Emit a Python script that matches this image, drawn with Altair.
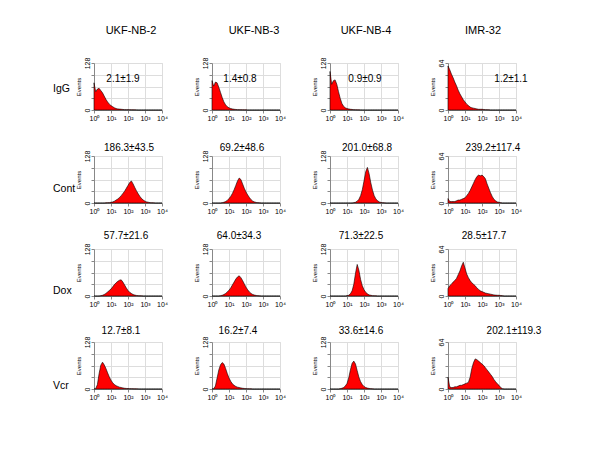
import altair as alt
import pandas as pd

FONT = "Liberation Sans"

CELL_LINES = ["UKF-NB-2", "UKF-NB-3", "UKF-NB-4", "IMR-32"]
TREATMENTS = ["IgG", "Cont", "Dox", "Vcr"]
Y_MAX = [128, 128, 128, 64]

# log10 fluorescence grid (10^0 .. 10^4)
LOG_FL = [0.0, 0.1, 0.2, 0.3, 0.4, 0.5, 0.6, 0.7, 0.8, 0.9,
          1.0, 1.1, 1.2, 1.3, 1.4, 1.5, 1.6, 1.7, 1.8, 1.9,
          2.0, 2.1, 2.2, 2.3, 2.4, 2.5, 2.6, 2.7, 2.8, 2.9,
          3.0, 3.1, 3.2, 3.3, 3.4, 3.5, 3.6, 3.7, 3.8, 3.9, 4.0]

MFI_LABELS = [
    ["2.1±1.9", "1.4±0.8", "0.9±0.9", "1.2±1.1"],
    ["186.3±43.5", "69.2±48.6", "201.0±68.8", "239.2±117.4"],
    ["57.7±21.6", "64.0±34.3", "71.3±22.5", "28.5±17.7"],
    ["12.7±8.1", "16.2±7.4", "33.6±14.6", "202.1±119.3"],
]

# events per channel
IGG_NB2 = [74, 50, 57, 59, 53, 47, 38, 29, 22, 16, 12, 9, 6, 4, 3, 2.5, 2, 1.5, 1, 1, 1, 0.8, 0.6, 0.5, 0.4, 0.3] + [0] * 15
IGG_NB3 = [80, 65, 76, 74, 62, 48, 34, 22, 14, 9, 6, 4, 3, 2, 1.5, 1, 1, 0.8, 0.6, 0.5, 0.4] + [0] * 20
IGG_NB4 = [105, 70, 80, 82, 70, 50, 32, 18, 10, 6, 4, 3, 2, 1.5, 1, 0.8, 0.5, 0.4, 0.3, 0.2] + [0] * 21
IGG_IMR = [60, 55, 49, 44, 38, 33, 27, 22, 18, 14, 11, 8, 6, 4, 3, 2.5, 2, 1.5, 1, 1, 1, 0.7, 0.5, 0.4, 0.3] + [0] * 16

CONT_NB2 = [0, 0, 0, 0, 0, 0, 0, 0.5, 1, 1, 2, 3, 5, 8, 11, 15, 20, 26, 32, 40, 48, 56, 60, 52, 42, 33, 25, 18, 12, 8, 5, 3, 2, 1, 0.8, 0.5] + [0] * 5
CONT_NB3 = [0] * 6 + [1, 2, 4, 7, 12, 18, 26, 36, 48, 60, 68, 64, 52, 40, 30, 22, 15, 9, 5, 3, 1.5, 1, 0.5] + [0] * 12
CONT_NB4 = [0] * 14 + [1, 2, 5, 10, 20, 36, 60, 85, 97, 80, 55, 35, 20, 11, 6, 3, 1.5, 1, 0.5] + [0] * 8
CONT_IMR = [6, 2, 2, 2, 2, 3, 4, 4, 5, 6, 7, 10, 13, 17, 22, 27, 32, 36, 38, 37, 38, 36, 33, 26, 20, 14, 9, 5, 3, 1.5, 1, 0.5] + [0] * 9

DOX_NB2 = [0] * 4 + [1, 2, 4, 7, 11, 15, 19, 25, 31, 36, 40, 43, 44, 38, 30, 22, 15, 10, 7, 4, 2.5, 1.5, 1, 0.7, 0.5] + [0] * 12
DOX_NB3 = [0] * 5 + [1, 2, 4, 7, 11, 16, 22, 30, 38, 46, 52, 55, 50, 42, 33, 24, 17, 11, 7, 4, 2.5, 1.5, 1, 0.5] + [0] * 12
DOX_NB4 = [0] * 10 + [1, 2, 6, 14, 32, 62, 86, 70, 45, 28, 17, 10, 6, 3, 2, 1, 0.7, 0.5] + [0] * 13
DOX_IMR = [10, 14, 16, 19, 21, 24, 29, 34, 41, 46, 38, 30, 25, 21, 18, 16, 14, 11, 9, 7, 6, 5, 4, 3.5, 3, 2.5, 2, 1.5, 1.2, 1, 1, 0.7, 0.5] + [0] * 8

VCR_NB2 = [0, 1, 12, 42, 65, 73, 66, 56, 44, 33, 24, 17, 12, 9, 7, 5, 4, 3, 2, 1.5, 1.2, 1, 1, 0.7, 0.5, 0.4, 0.3] + [0] * 14
VCR_NB3 = [0, 1, 8, 30, 52, 66, 72, 68, 56, 42, 30, 21, 14, 10, 7, 5, 4, 3, 2, 1.5, 1, 0.8, 0.6, 0.5] + [0] * 17
VCR_NB4 = [0] * 6 + [1, 2, 4, 8, 15, 30, 52, 70, 76, 68, 50, 32, 20, 12, 7, 4, 2.5, 1.5, 1, 0.5] + [0] * 15
VCR_IMR = [16, 3, 2, 2, 3, 3, 4, 5, 5, 6, 7, 8, 9, 16, 28, 36, 41, 40, 38, 36, 34, 32, 29, 26, 23, 20, 17, 13, 10, 7, 5, 2, 0.5] + [0] * 8

COUNTS = [
    [IGG_NB2, IGG_NB3, IGG_NB4, IGG_IMR],
    [CONT_NB2, CONT_NB3, CONT_NB4, CONT_IMR],
    [DOX_NB2, DOX_NB3, DOX_NB4, DOX_IMR],
    [VCR_NB2, VCR_NB3, VCR_NB4, VCR_IMR],
]

# layout (pixels, relative to each panel's plot area)
PW, PH = 68, 47
VAL_X = [[29, 28, 35, 63], [35, 30, 37, 45], [32, 27, 31, 36], [27, 26, 31, 66]]
VAL_Y = [16, -8, -13, -11]
TITLE_X = [37, 42, 36, 35]
ROW_X = -41
ROW_Y = [26, 33, 42, 44]

SUP = "datum.value == 1 ? '10⁰' : datum.value == 10 ? '10¹' : datum.value == 100 ? '10²' : datum.value == 1000 ? '10³' : '10⁴'"


def panel(r, c):
    ymax = Y_MAX[c]
    df = pd.DataFrame({"fl": [10 ** v for v in LOG_FL], "events": COUNTS[r][c]})
    area = alt.Chart(df).mark_area(
        fill="#ff0000", stroke="#000000", strokeWidth=0.6, interpolate="linear"
    ).encode(
        x=alt.X("fl:Q", scale=alt.Scale(type="log", domain=[1, 10000]),
                axis=alt.Axis(values=[1, 10, 100, 1000, 10000], labelExpr=SUP, title=None,
                              labelFontSize=7, tickSize=3, labelPadding=1, labelFlush=False)),
        y=alt.Y("events:Q", scale=alt.Scale(domain=[0, ymax], nice=False, zero=True),
                axis=alt.Axis(values=[0, ymax / 4, ymax / 2, 3 * ymax / 4, ymax],
                              labelExpr="datum.value == 0 || datum.value == %d ? datum.label : ''" % ymax,
                              title="Events", titleFontSize=6, titleFontWeight="normal",
                              titlePadding=2, labelAngle=270, labelFontSize=7, tickSize=3,
                              labelPadding=1, labelFlush=False)),
    )
    layers = [area]
    val = alt.Chart(pd.DataFrame({"t": [MFI_LABELS[r][c]]})).mark_text(
        fontSize=10, font=FONT, color="#000"
    ).encode(text="t:N", x=alt.value(VAL_X[r][c]), y=alt.value(VAL_Y[r]))
    layers.append(val)
    if r == 0:
        ttl = alt.Chart(pd.DataFrame({"t": [CELL_LINES[c]]})).mark_text(
            fontSize=11, font=FONT, color="#000"
        ).encode(text="t:N", x=alt.value(TITLE_X[c]), y=alt.value(-32))
        layers.append(ttl)
    if c == 0:
        rl = alt.Chart(pd.DataFrame({"t": [TREATMENTS[r]]})).mark_text(
            fontSize=10.5, font=FONT, color="#000", align="left"
        ).encode(text="t:N", x=alt.value(ROW_X), y=alt.value(ROW_Y[r]))
        layers.append(rl)
    return alt.layer(*layers).properties(width=PW, height=PH)


panels = [panel(r, c) for r in range(4) for c in range(4)]

chart = alt.concat(
    *panels, columns=4, spacing={"row": 46, "column": 50}, bounds="flush"
).properties(
    padding={"left": 44, "top": 16, "right": 5, "bottom": 5}
).configure_view(stroke=None).configure_axis(
    domainColor="#000", tickColor="#000", labelColor="#222", titleColor="#222",
    labelFont=FONT, titleFont=FONT, grid=False, domainWidth=1
).configure(background="white")

chart.save("out.html", embed_options={"renderer": "svg", "actions": False})
